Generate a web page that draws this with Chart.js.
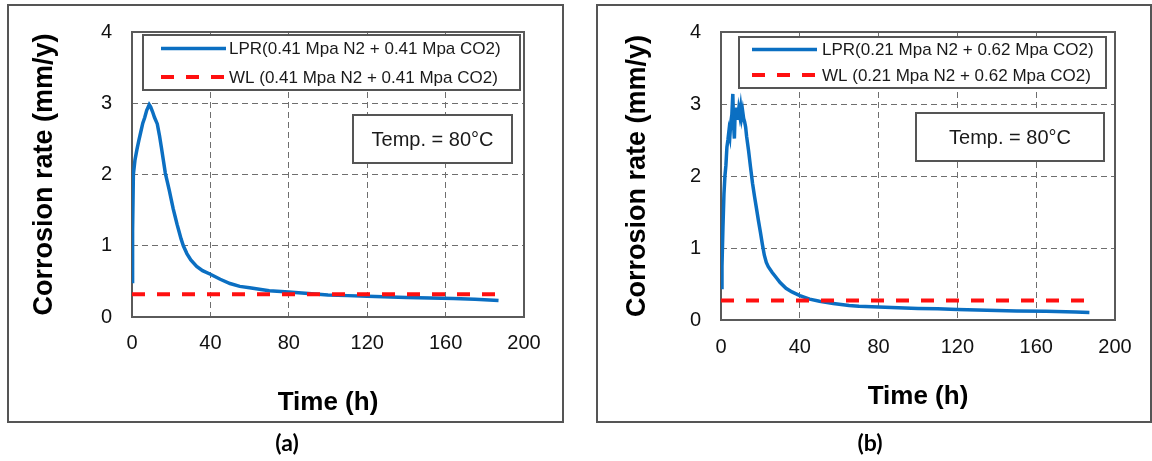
<!DOCTYPE html>
<html>
<head>
<meta charset="utf-8">
<script src="https://cdn.jsdelivr.net/npm/chart.js@4.4.1/dist/chart.umd.min.js"></script>
<style>
  html, body { margin: 0; padding: 0; background: #fff; }
  body { width: 1152px; height: 461px; position: relative; overflow: hidden; }
  .panel { position: absolute; top: 4px; height: 415px; border: 2px solid #555; }
  #panelA { left: 7px; width: 553px; }
  #panelB { left: 596px; width: 552px; }
  canvas { position: absolute; top: 0; }
  #chartA { left: 8px; }
  #chartB { left: 597px; }
  .caption { position: absolute; top: 428px; width: 60px; text-align: center;
             font: bold 23px Lato, "Open Sans", sans-serif; color: #000; }
  #capA { left: 257px; }
  #capB { left: 840px; }
</style>
</head>
<body>
<div class="panel" id="panelA"></div>
<div class="panel" id="panelB"></div>
<canvas id="chartA" width="560" height="461"></canvas>
<canvas id="chartB" width="560" height="461"></canvas>
<div class="caption" id="capA">(a)</div>
<div class="caption" id="capB">(b)</div>
<script>
// Axis ticks and titles
const xTicks = [0, 40, 80, 120, 160, 200];
const yTicks = [0, 1, 2, 3, 4];
const xTitle = 'Time (h)';
const yTitle = 'Corrosion rate (mm/y)';
const noteText = 'Temp. = 80°C';

// (a) 0.41 MPa N2 + 0.41 MPa CO2
const lprLabelA = 'LPR(0.41 Mpa N2 + 0.41 Mpa CO2)';
const wlLabelA = 'WL (0.41 Mpa N2 + 0.41 Mpa CO2)';
const lprTimeA = [0, 0.3, 0.7, 1.5, 2.5, 3.5, 4.5, 5.5, 6.5, 7.5, 8.8, 9.5, 10.5, 11.5, 12.9,
  14, 15, 16, 17, 18, 19, 20, 21, 22, 23, 24, 25, 26.2, 28, 30, 33, 36, 40, 45, 50, 55, 60,
  70, 80, 90, 100, 110, 120, 140, 164, 175, 187];
const lprRateA = [0.5, 1.2, 2.0, 2.2, 2.35, 2.48, 2.6, 2.72, 2.8, 2.9, 2.98, 2.95, 2.88, 2.8, 2.71,
  2.55, 2.38, 2.2, 2.02, 1.9, 1.78, 1.65, 1.52, 1.41, 1.3, 1.2, 1.1, 1.0, 0.89, 0.8, 0.71, 0.65, 0.6, 0.53, 0.47, 0.43, 0.41,
  0.37, 0.35, 0.33, 0.31, 0.3, 0.29, 0.275, 0.26, 0.25, 0.23];
const wlTimeA = [0, 186];
const wlRateA = [0.32, 0.32];

// (b) 0.21 MPa N2 + 0.62 MPa CO2
const lprLabelB = 'LPR(0.21 Mpa N2 + 0.62 Mpa CO2)';
const wlLabelB = 'WL (0.21 Mpa N2 + 0.62 Mpa CO2)';
const lprTimeB = [0, 0.5, 1.0, 1.5, 2.0, 2.5, 3.0, 3.5, 4.0, 4.5, 5.0, 5.5, 6.0, 6.4, 6.8, 7.2, 7.6,
  8.0, 8.5, 9.0, 9.5, 10.0, 10.5, 11.0, 11.5, 12.0, 12.5, 13, 14, 15, 16, 17, 18, 19, 20, 21, 22,
  23, 24, 26, 28, 30, 33, 36, 40, 45, 50, 57, 65, 70, 80, 90, 100, 110, 120, 135, 150, 165, 180, 187];
const lprRateB = [0.45, 0.75, 1.3, 1.75, 2.0, 2.15, 2.4, 2.5, 2.62, 2.55, 2.75, 2.85, 3.14, 2.7, 2.52, 2.9, 2.8,
  2.95, 2.78, 2.92, 2.84, 2.95, 2.82, 2.9, 2.8, 2.75, 2.68, 2.55, 2.35, 2.12, 1.9, 1.72, 1.55, 1.38, 1.22, 1.05, 0.9,
  0.8, 0.74, 0.66, 0.59, 0.52, 0.44, 0.39, 0.34, 0.29, 0.26, 0.23, 0.2, 0.19, 0.18, 0.17, 0.16, 0.155, 0.145, 0.135, 0.125, 0.12, 0.11, 0.105];
const wlTimeB = [0, 186];
const wlRateB = [0.27, 0.27];

const BLUE = '#0b6fc2';
const RED = '#ff1010';
const FONT = '"Liberation Sans", Arial, sans-serif';

const toPoints = (xs, ys) => xs.map((x, i) => ({ x: x, y: ys[i] }));

// Solid frame round the plotting area
const framePlugin = {
  id: 'plotFrame',
  beforeDatasetsDraw(chart) {
    const a = chart.chartArea, ctx = chart.ctx;
    ctx.save();
    ctx.strokeStyle = '#5a5a5a';
    ctx.lineWidth = 2;
    ctx.strokeRect(a.left, a.top, a.right - a.left, a.bottom - a.top);
    ctx.restore();
  }
};

// Boxed legend and temperature note inside the plot
const decorPlugin = {
  id: 'panelDecor',
  afterDatasetsDraw(chart, args, opts) {
    const ctx = chart.ctx;
    const box = (b) => {
      ctx.fillStyle = '#fff';
      ctx.fillRect(b.x1, b.y1, b.x2 - b.x1, b.y2 - b.y1);
      ctx.strokeStyle = '#555';
      ctx.lineWidth = 2;
      ctx.strokeRect(b.x1, b.y1, b.x2 - b.x1, b.y2 - b.y1);
    };
    ctx.save();
    const L = opts.legend;
    box(L);
    chart.data.datasets.forEach((ds, i) => {
      const y = L.rows[i];
      ctx.save();
      ctx.strokeStyle = ds.borderColor;
      ctx.lineWidth = ds.borderWidth;
      ctx.setLineDash(ds.borderDash || []);
      ctx.beginPath();
      ctx.moveTo(L.lineX1, y);
      ctx.lineTo(L.lineX2, y);
      ctx.stroke();
      ctx.restore();
      ctx.fillStyle = '#1a1a1a';
      ctx.font = '17px ' + FONT;
      ctx.textAlign = 'left';
      ctx.textBaseline = 'middle';
      ctx.fillText(ds.label, L.textX, y + 1);
    });
    const N = opts.note;
    box(N);
    ctx.fillStyle = '#1a1a1a';
    ctx.font = '20px ' + FONT;
    ctx.textAlign = 'center';
    ctx.textBaseline = 'middle';
    ctx.fillText(N.text, (N.x1 + N.x2) / 2, (N.y1 + N.y2) / 2 + 1);
    ctx.restore();
  }
};

function buildChart(id, s) {
  const W = 560, H = 461;
  return new Chart(document.getElementById(id), {
    type: 'line',
    data: {
      datasets: [
        { label: s.lprLabel, data: toPoints(s.lprT, s.lprV), borderColor: BLUE, borderWidth: 3.5,
          pointRadius: 0, tension: 0, order: 1 },
        { label: s.wlLabel, data: toPoints(s.wlT, s.wlV), borderColor: RED, borderWidth: 4,
          borderDash: [13, 12], pointRadius: 0, tension: 0, order: 0 }
      ]
    },
    options: {
      responsive: false,
      animation: false,
      devicePixelRatio: 1,
      layout: { padding: { left: 0, top: s.top, right: W - s.right, bottom: H - s.frameBottom } },
      plugins: {
        legend: { display: false },
        tooltip: { enabled: false },
        panelDecor: { legend: s.legend, note: s.note }
      },
      scales: {
        x: {
          type: 'linear', min: 0, max: 200,
          afterBuildTicks: (sc) => { sc.ticks = xTicks.map(v => ({ value: v })); },
          afterFit: (sc) => { sc.height = s.frameBottom - s.bottom; },
          grid: { color: '#6e6e6e', lineWidth: 1, drawTicks: false },
          border: { display: false, dash: [6, 4] },
          ticks: { padding: s.xTickPad, color: '#111', font: { family: FONT, size: 20 } },
          title: { display: true, text: xTitle, color: '#000',
                   font: { family: FONT, size: 26, weight: 'bold' },
                   padding: { top: 0, bottom: s.xTitlePad } }
        },
        y: {
          type: 'linear', min: 0, max: 4,
          afterBuildTicks: (sc) => { sc.ticks = yTicks.map(v => ({ value: v })); },
          afterFit: (sc) => { sc.width = s.left; },
          grid: { color: '#6e6e6e', lineWidth: 1, drawTicks: false },
          border: { display: false, dash: [6, 4] },
          ticks: { padding: 20, color: '#111', font: { family: FONT, size: 20 } },
          title: { display: true, text: yTitle, color: '#000',
                   font: { family: FONT, size: 27, weight: 'bold' },
                   padding: { top: s.yTitlePad, bottom: 0 } }
        }
      }
    },
    plugins: [framePlugin, decorPlugin]
  });
}

buildChart('chartA', {
  lprLabel: lprLabelA, wlLabel: wlLabelA,
  lprT: lprTimeA, lprV: lprRateA, wlT: wlTimeA, wlV: wlRateA,
  left: 124, right: 516, top: 26, bottom: 317, frameBottom: 422,
  xTickPad: 14, xTitlePad: 4, yTitlePad: 20,
  legend: { x1: 135, y1: 35, x2: 512, y2: 90, lineX1: 153, lineX2: 218, textX: 221, rows: [48.5, 77] },
  note: { x1: 345, y1: 115, x2: 504, y2: 163, text: noteText }
});

buildChart('chartB', {
  lprLabel: lprLabelB, wlLabel: wlLabelB,
  lprT: lprTimeB, lprV: lprRateB, wlT: wlTimeB, wlV: wlRateB,
  left: 124, right: 518, top: 25, bottom: 320, frameBottom: 422,
  xTickPad: 15, xTitlePad: 10, yTitlePad: 24,
  legend: { x1: 142, y1: 37, x2: 509, y2: 88, lineX1: 155, lineX2: 220, textX: 225, rows: [49.5, 75] },
  note: { x1: 319, y1: 113, x2: 507, y2: 161, text: noteText }
});
</script>
</body>
</html>
